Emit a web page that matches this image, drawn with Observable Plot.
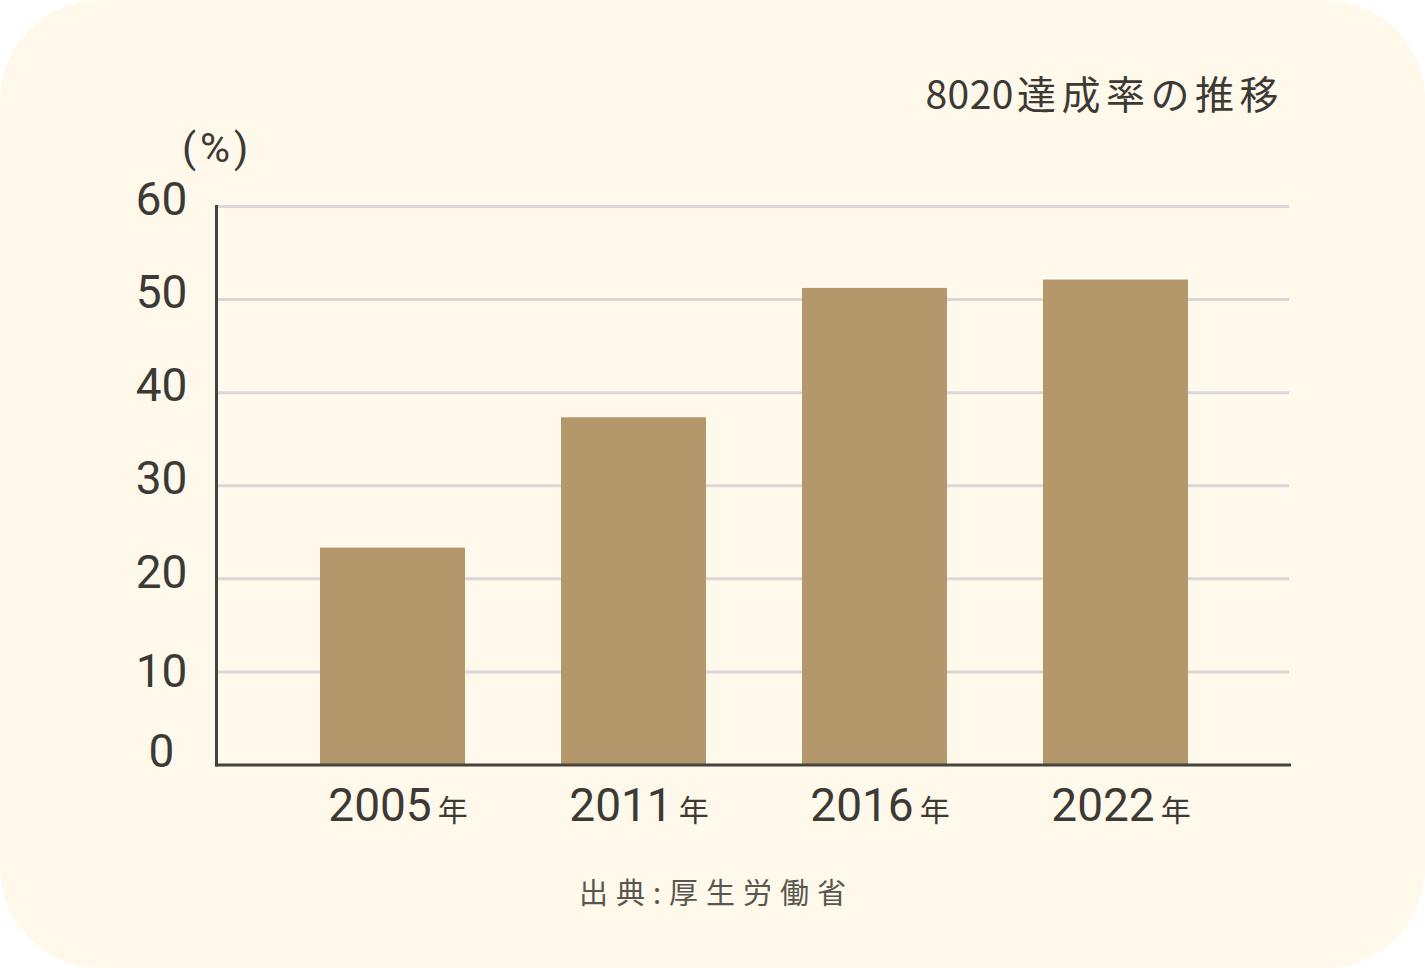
<!DOCTYPE html>
<html><head><meta charset="utf-8">
<script src="https://cdn.jsdelivr.net/npm/d3@7"></script>
<script src="https://cdn.jsdelivr.net/npm/@observablehq/plot@0.6"></script>
<style>
body{margin:0;background:#fff;}
#card{position:relative;width:1425px;height:968px;background:#FEF9EB;border-radius:100px;overflow:hidden;}
#chart{position:absolute;left:0;top:0;}
#title{position:absolute;right:141px;top:73px;font-family:"Noto Sans CJK JP";font-size:39px;line-height:1;letter-spacing:5.5px;color:#3d3934;white-space:nowrap;}
#title .num{letter-spacing:0.5px;margin-right:3px;}
#unit{position:absolute;left:182px;top:128px;font-family:Roboto;font-size:41px;line-height:1;letter-spacing:4px;color:#3d3934;}
#caption{position:absolute;left:579px;top:877px;font-family:"Noto Sans CJK JP";font-size:29px;line-height:1;letter-spacing:8px;color:#59554f;white-space:nowrap;}
</style></head>
<body>
<div id="card">
  <div id="chart"></div>
  <div id="title"><span class="num">8020</span>達成率の推移</div>
  <div id="unit">(%)</div>
  <div id="caption">出典:厚生労働省</div>
</div>
<script>
const years = ["2005", "2011", "2016", "2022"];
const rates = [23.3, 37.3, 51.2, 52.1];
const gridTicks = [10, 20, 30, 40, 50, 60];
const upperTicks = [20, 30, 40, 50, 60];
const yearSuffix = "年";

const data = years.map((year, i) => ({year, rate: rates[i]}));

const textColor = "#3d3934";
const axisStyle = {tickSize: 0, fontSize: 46, fontFamily: "Roboto", letterSpacing: "-2px", label: null};

const chart = Plot.plot({
  width: 1425,
  height: 968,
  marginLeft: 216,
  marginRight: 136,
  marginTop: 206,
  marginBottom: 203.5,
  style: {background: "transparent", color: textColor, fontFamily: "Roboto"},
  x: {domain: years, paddingInner: 0.4, paddingOuter: 0, insetLeft: 102, insetRight: 100, label: null},
  y: {domain: [0, 60], label: null},
  marks: [
    Plot.ruleY(gridTicks, {stroke: "#DCD7D7", strokeWidth: 3}),
    Plot.barY(data, {x: "year", y: "rate", fill: "#B5976C"}),
    Plot.frame({anchor: "left", stroke: "#46423d", strokeWidth: 3}),
    Plot.frame({anchor: "bottom", stroke: "#46423d", strokeWidth: 3}),
    Plot.axisY(upperTicks, {...axisStyle, textAnchor: "middle", tickPadding: 55, dy: -6}),
    Plot.axisY([10], {...axisStyle, textAnchor: "middle", tickPadding: 55, dy: 0}),
    Plot.axisY([0], {...axisStyle, textAnchor: "middle", tickPadding: 55, dy: -13}),
    Plot.axisX({...axisStyle, tickPadding: 23, dx: 5})
  ]
});

document.getElementById("chart").appendChild(chart);

// smaller 年 suffix after each year tick label
chart.querySelectorAll('g[aria-label="x-axis tick label"] text').forEach(t => {
  const ts = document.createElementNS("http://www.w3.org/2000/svg", "tspan");
  ts.setAttribute("font-size", "30");
  ts.setAttribute("font-family", "Noto Sans CJK JP");
  ts.setAttribute("letter-spacing", "0");
  ts.setAttribute("dx", "6");
  ts.textContent = yearSuffix;
  t.appendChild(ts);
});
</script>
</body></html>
